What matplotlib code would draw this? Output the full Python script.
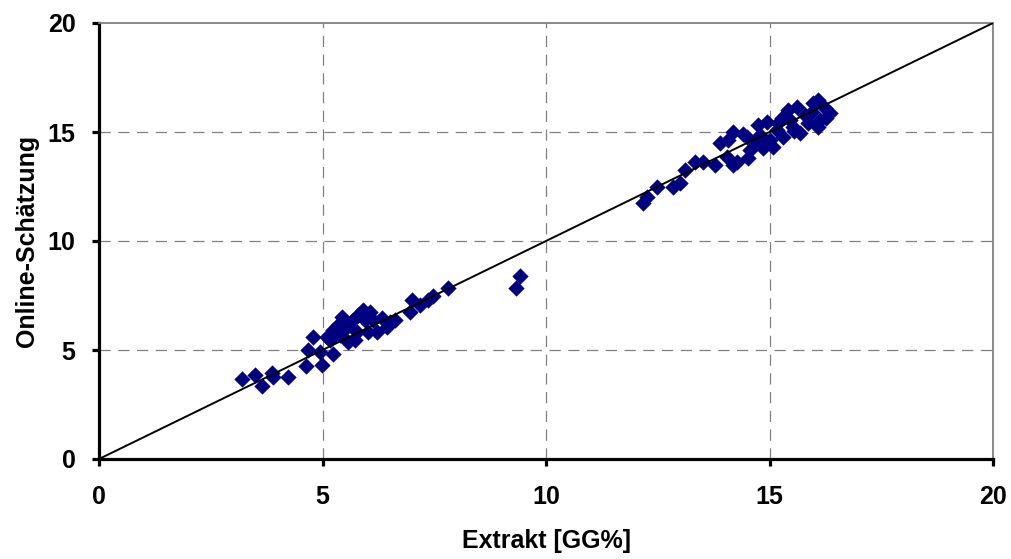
import matplotlib
matplotlib.use("Agg")
import matplotlib.pyplot as plt

plt.rcParams['font.family'] = ['Liberation Sans', 'DejaVu Sans']

# Reference (measured) extract values [GG%]
extrakt = [
    3.19, 3.49, 3.64, 3.86, 3.89, 4.22, 4.63, 4.98, 5.23, 4.68, 4.79, 4.94, 5.09, 5.23,
    5.43, 5.57, 5.54, 5.68, 5.77, 5.91, 5.95, 6.02, 6.13, 6.21, 6.32, 6.44, 6.62, 6.96,
    7.00, 7.18, 7.36, 7.47, 7.81, 5.35, 5.79, 5.39, 6.06, 5.17, 6.51, 5.73,
    9.33, 9.42,
    12.17, 12.25, 12.48, 12.84, 13.00, 13.11, 13.33, 13.51, 13.78, 14.04, 14.18, 14.27,
    13.89, 14.07, 14.18, 14.49, 14.52, 14.57, 14.71, 14.74, 14.85, 14.94, 15.01, 15.08,
    15.16, 15.27, 15.30, 15.41, 15.52, 15.61, 15.68, 15.79, 15.86, 15.97, 16.09, 16.13,
    16.24, 16.36, 16.09, 14.79, 15.46, 15.95, 16.26, 15.20, 15.55, 14.40,
]
# Online estimate
online = [
    3.66, 3.85, 3.35, 3.93, 3.78, 3.75, 4.27, 4.31, 4.82, 5.00, 5.61, 4.92, 5.61, 5.92,
    6.53, 5.38, 6.07, 6.38, 5.84, 6.83, 6.38, 5.84, 6.38, 5.84, 6.47, 6.07, 6.38, 6.76,
    7.29, 7.06, 7.29, 7.48, 7.84, 6.15, 6.61, 5.69, 6.74, 5.46, 6.28, 5.46,
    7.84, 8.39,
    11.73, 12.03, 12.49, 12.49, 12.65, 13.26, 13.64, 13.64, 13.49, 13.87, 13.49, 13.64,
    14.48, 14.63, 15.01, 14.78, 13.79, 14.17, 14.48, 15.32, 14.25, 15.47, 14.63, 14.33,
    15.09, 15.63, 14.78, 16.01, 15.24, 16.16, 14.94, 15.78, 15.40, 16.32, 16.47, 15.55,
    16.09, 15.86, 15.24, 14.86, 15.55, 15.92, 15.64, 15.40, 15.05, 14.90,
]
line_x = [0, 20]
line_y = [0, 20]
ticks = [0, 5, 10, 15, 20]

fig = plt.figure(figsize=(10.11, 5.59), dpi=100)
ax = fig.add_axes([99/1011, 100/559, 894/1011, 436/559])

ax.scatter(extrakt, online, marker='D', s=8.3**2, color='#000080', linewidths=0, zorder=3)
ax.plot(line_x, line_y, color='black', lw=1.4, zorder=4)

ax.set_xlim(0, 20)
ax.set_ylim(0, 20)
ax.set_xticks(ticks)
ax.set_yticks(ticks)
ax.set_xticklabels([str(t) for t in ticks], fontsize=18, fontweight='bold')
ax.set_yticklabels([str(t) for t in ticks], fontsize=18, fontweight='bold')

for v in [5, 10, 15]:
    ax.axhline(v, color='#808080', lw=0.9, ls=(0, (9, 6)), zorder=1)
    ax.axvline(v, color='#808080', lw=0.9, ls=(0, (9, 6)), zorder=1)

ax.spines['left'].set_linewidth(2.3)
ax.spines['bottom'].set_linewidth(2.3)
ax.spines['top'].set_color('#808080')
ax.spines['right'].set_color('#808080')
ax.spines['top'].set_linewidth(1.3)
ax.spines['right'].set_linewidth(1.3)

ax.tick_params(axis='both', direction='out', length=5, width=2.3, color='black')
ax.tick_params(axis='x', pad=14)
ax.tick_params(axis='y', pad=12)

ax.set_xlabel('Extrakt [GG%]', fontsize=18, fontweight='bold', labelpad=14)
ax.set_ylabel('Online-Schätzung', fontsize=18, fontweight='bold', labelpad=6)

fig.savefig('out.png', dpi=100)
